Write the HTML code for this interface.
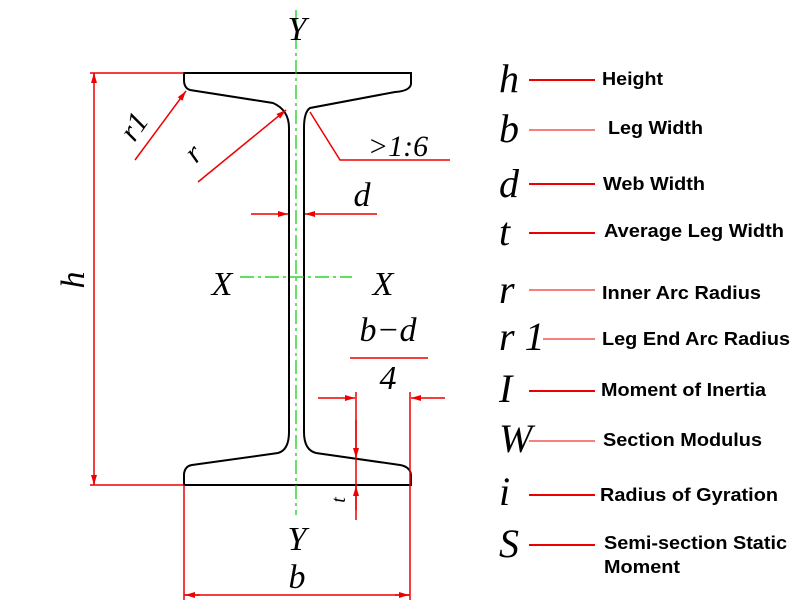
<!DOCTYPE html><html><head><style>body{margin:0;background:#fff}svg{display:block}
.s{font-family:"Liberation Serif",serif;font-style:italic}
.l{font-family:"Liberation Sans",sans-serif;font-weight:bold;font-size:18px;fill:#000}</style></head><body>
<svg width="800" height="614" viewBox="0 0 800 614" xmlns="http://www.w3.org/2000/svg">
<defs><marker id="a" viewBox="0 0 10 6" refX="10" refY="3" markerWidth="10" markerHeight="6" markerUnits="userSpaceOnUse" orient="auto"><path d="M0,0L10,3L0,6z" fill="#e00"/></marker></defs>
<g stroke="#000" stroke-width="2" fill="none">
<path d="M184,73H411V84Q410,91 395,92L310,108Q304,112 304,128V432Q304,450 316,453L400,465Q411,467 411,476V485H184V474Q185,466 192,465L278,453Q289,450 289,432V128Q289,110 273,103L190,90Q184,88 184,80Z"/>
</g>
<g stroke="#0c0" stroke-width="1.2" stroke-dasharray="14,4,3,4" fill="none">
<path d="M296,10V515"/><path d="M240,277H352"/></g>
<g stroke="#e00" stroke-width="1.5" fill="none">
<path d="M90,73H184M90,485H184M94,73V485"/>
<path d="M94,80V73" marker-end="url(#a)"/><path d="M94,478V485" marker-end="url(#a)"/>
<path d="M135,160L186,91" marker-end="url(#a)"/>
<path d="M198,182L286,110" marker-end="url(#a)"/>
<path d="M310,112L340,160H450"/>
<path d="M251,214H288" marker-end="url(#a)"/><path d="M377,214H305" marker-end="url(#a)"/>
<path d="M350,358H428"/>
<path d="M318,398H355" marker-end="url(#a)"/><path d="M445,398H411" marker-end="url(#a)"/>
<path d="M356,392V520M410,392V600M184,485V600"/>
<path d="M356,420V458" marker-end="url(#a)"/><path d="M356,510V486" marker-end="url(#a)"/>
<path d="M200,595H185" marker-end="url(#a)"/><path d="M395,595H409" marker-end="url(#a)"/>
<path d="M184,595H410"/>
</g>
<g class="s" font-size="34" fill="#000" text-anchor="middle">
<text x="297" y="40">Y</text><text x="297" y="550">Y</text><text x="297" y="588">b</text>
<text x="222" y="295">X</text><text x="383" y="295">X</text>
<text x="362" y="206">d</text>
<text x="388" y="341">b−d</text><text x="388" y="389">4</text>
<text x="398" y="156" font-size="30">&gt;1:6</text>
<text transform="translate(84,280) rotate(-90)">h</text>
<text transform="translate(142,132) rotate(-55)" font-size="30">r1</text>
<text transform="translate(200,160) rotate(-45)" font-size="30">r</text>
<text transform="translate(345,500) rotate(-90)" font-size="20">t</text>
</g>
<g class="s" font-size="40" fill="#000">
<text x="499" y="92">h</text><text x="499" y="142">b</text><text x="499" y="197">d</text><text x="499" y="245">t</text>
<text x="499" y="303">r</text><text x="499" y="350">r 1</text><text x="499" y="402">I</text><text x="499" y="452">W</text>
<text x="499" y="505">i</text><text x="499" y="557">S</text>
</g>
<g stroke="#e00" fill="none">
<path d="M529,80H595M529,184H595M529,233H595M529,391H595M529,495H595M529,545H595" stroke-width="2"/>
<path d="M529,130H595M529,290H595M543,339H595M529,441H595" stroke-width="1"/>
</g>
<g class="l" lengthAdjust="spacingAndGlyphs">
<text x="602" y="85" textLength="61" lengthAdjust="spacingAndGlyphs">Height</text>
<text x="608" y="134" textLength="95" lengthAdjust="spacingAndGlyphs">Leg Width</text>
<text x="603" y="190" textLength="102" lengthAdjust="spacingAndGlyphs">Web Width</text>
<text x="604" y="237" textLength="180" lengthAdjust="spacingAndGlyphs">Average Leg Width</text>
<text x="602" y="299" textLength="159" lengthAdjust="spacingAndGlyphs">Inner Arc Radius</text>
<text x="602" y="345" textLength="188" lengthAdjust="spacingAndGlyphs">Leg End Arc Radius</text>
<text x="601" y="396" textLength="165" lengthAdjust="spacingAndGlyphs">Moment of Inertia</text>
<text x="603" y="446" textLength="159" lengthAdjust="spacingAndGlyphs">Section Modulus</text>
<text x="600" y="501" textLength="178" lengthAdjust="spacingAndGlyphs">Radius of Gyration</text>
<text x="604" y="549" textLength="183" lengthAdjust="spacingAndGlyphs">Semi-section Static</text>
<text x="604" y="573" textLength="76" lengthAdjust="spacingAndGlyphs">Moment</text>
</g>
</svg></body></html>
